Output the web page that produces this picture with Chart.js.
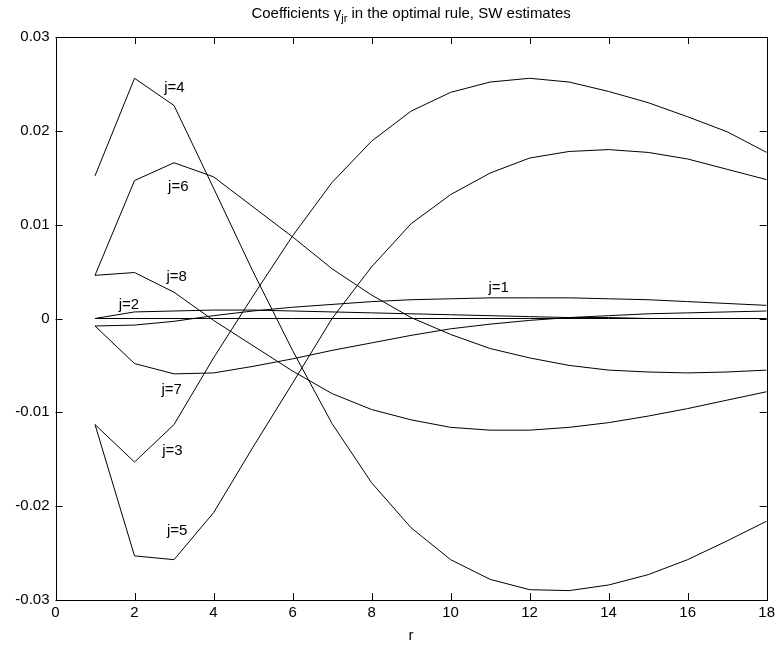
<!DOCTYPE html>
<html>
<head>
<meta charset="utf-8">
<title>Coefficients in the optimal rule</title>
<script src="https://cdn.jsdelivr.net/npm/chart.js@4.4.1/dist/chart.umd.min.js"></script>
<style>
    html, body { margin: 0; padding: 0; background: #fff; }
    #wrap { width: 779px; height: 645px; position: relative; }
</style>
</head>
<body>
<div id="wrap"><canvas id="gammaChart"></canvas></div>
<script>
(function () {
    // horizon r and coefficient paths gamma_jr for j = 1..8
    var r = [1, 2, 3, 4, 5, 6, 7, 8, 9, 10, 11, 12, 13, 14, 15, 16, 17, 18];

    var gamma1 = [-0.0008, -0.0007, -0.0003, 0.0003, 0.0008, 0.0012, 0.0015, 0.0018, 0.0020,
                  0.0021, 0.0022, 0.0022, 0.0022, 0.0021, 0.0020, 0.0018, 0.0016, 0.0014];
    var gamma2 = [0.0000, 0.0007, 0.0008, 0.0009, 0.0009, 0.0008, 0.0007, 0.0006, 0.0005,
                  0.0004, 0.0003, 0.0002, 0.0001, 0.0001, 0.0000, 0.0000, 0.0000, 0.0000];
    var gamma3 = [-0.0113, -0.0153, -0.0113, -0.0042, 0.0024, 0.0088, 0.0145, 0.0189, 0.0221,
                  0.0241, 0.0252, 0.0256, 0.0252, 0.0242, 0.0230, 0.0215, 0.0199, 0.0177];
    var gamma4 = [0.0152, 0.0256, 0.0227, 0.0139, 0.0050, -0.0034, -0.0112, -0.0175, -0.0223,
                  -0.0257, -0.0278, -0.0289, -0.0290, -0.0284, -0.0273, -0.0257, -0.0237, -0.0216];
    var gamma5 = [-0.0113, -0.0253, -0.0257, -0.0207, -0.0137, -0.0069, 0.0000, 0.0055, 0.0101,
                  0.0132, 0.0155, 0.0171, 0.0178, 0.0180, 0.0177, 0.0170, 0.0159, 0.0148];
    var gamma6 = [0.0046, 0.0147, 0.0166, 0.0151, 0.0119, 0.0087, 0.0053, 0.0025, 0.0001,
                  -0.0017, -0.0032, -0.0042, -0.0050, -0.0055, -0.0057, -0.0058, -0.0057, -0.0055];
    var gamma7 = [-0.0008, -0.0048, -0.0059, -0.0058, -0.0051, -0.0043, -0.0034, -0.0026, -0.0018,
                  -0.0011, -0.0006, -0.0002, 0.0001, 0.0003, 0.0005, 0.0006, 0.0007, 0.0008];
    var gamma8 = [0.0046, 0.0049, 0.0028, -0.0002, -0.0029, -0.0056, -0.0080, -0.0097, -0.0108,
                  -0.0116, -0.0119, -0.0119, -0.0116, -0.0111, -0.0104, -0.0096, -0.0087, -0.0078];
    var zeroLine = [0, 0, 0, 0, 0, 0, 0, 0, 0, 0, 0, 0, 0, 0, 0, 0, 0, 0];

    var xTicks = [0, 2, 4, 6, 8, 10, 12, 14, 16, 18];
    var yTicks = [-0.03, -0.02, -0.01, 0, 0.01, 0.02, 0.03];

    // text labels placed in data units (r, gamma)
    var curveLabels = [
        { text: 'j=1', r: 10.96, value: 0.00325 },
        { text: 'j=2', r: 1.60, value: 0.00144 },
        { text: 'j=3', r: 2.70, value: -0.01412 },
        { text: 'j=4', r: 2.75, value: 0.02457 },
        { text: 'j=5', r: 2.82, value: -0.02265 },
        { text: 'j=6', r: 2.85, value: 0.01407 },
        { text: 'j=7', r: 2.68, value: -0.00762 },
        { text: 'j=8', r: 2.81, value: 0.00442 }
    ];

    var FONT = 'Liberation Sans, Arial, Helvetica, sans-serif';
    var FONT_SIZE = 15;

    function series(values) {
        return values.map(function (v, i) { return { x: r[i], y: v }; });
    }

    function lineSet(label, values) {
        return {
            label: label,
            data: series(values),
            borderColor: '#000',
            borderWidth: 1,
            pointRadius: 0,
            tension: 0,
            fill: false
        };
    }

    function fmtY(value) {
        if (Math.abs(value) < 1e-9) return '0';
        return value.toFixed(2);
    }

    // frame, inward ticks, title with subscript and curve labels
    var matlabAxes = {
        id: 'matlabAxes',
        afterDraw: function (chart) {
            var ctx = chart.ctx;
            var area = chart.chartArea;
            var xs = chart.scales.x;
            var ys = chart.scales.y;
            var tick = 7;

            ctx.save();
            ctx.strokeStyle = '#000';
            ctx.lineWidth = 1;
            ctx.strokeRect(Math.round(area.left) + 0.5, Math.round(area.top) + 0.5,
                Math.round(area.right - area.left), Math.round(area.bottom - area.top));

            ctx.beginPath();
            xTicks.forEach(function (v) {
                var px = Math.round(xs.getPixelForValue(v)) + 0.5;
                ctx.moveTo(px, area.bottom);
                ctx.lineTo(px, area.bottom - tick);
                ctx.moveTo(px, area.top);
                ctx.lineTo(px, area.top + tick);
            });
            yTicks.forEach(function (v) {
                var py = Math.round(ys.getPixelForValue(v)) + 0.5;
                ctx.moveTo(area.left, py);
                ctx.lineTo(area.left + tick, py);
                ctx.moveTo(area.right, py);
                ctx.lineTo(area.right - tick, py);
            });
            ctx.stroke();

            // title
            var main = 'Coefficients \u03b3';
            var sub = 'jr';
            var rest = ' in the optimal rule, SW estimates';
            var bigFont = FONT_SIZE + 'px ' + FONT;
            var smallFont = '11px ' + FONT;
            ctx.fillStyle = '#000';
            ctx.textBaseline = 'alphabetic';
            ctx.textAlign = 'left';
            ctx.font = bigFont;
            var wMain = ctx.measureText(main).width;
            var wRest = ctx.measureText(rest).width;
            ctx.font = smallFont;
            var wSub = ctx.measureText(sub).width;
            var total = wMain + wSub + wRest;
            var x0 = (area.left + area.right) / 2 - total / 2;
            var base = 18;
            ctx.font = bigFont;
            ctx.fillText(main, x0, base);
            ctx.font = smallFont;
            ctx.fillText(sub, x0 + wMain, base + 4);
            ctx.font = bigFont;
            ctx.fillText(rest, x0 + wMain + wSub, base);

            // curve labels
            ctx.textBaseline = 'middle';
            curveLabels.forEach(function (lab) {
                ctx.fillText(lab.text, xs.getPixelForValue(lab.r), ys.getPixelForValue(lab.value));
            });
            ctx.restore();
        }
    };

    new Chart(document.getElementById('gammaChart').getContext('2d'), {
        type: 'line',
        data: {
            datasets: [
                lineSet('j=1', gamma1),
                lineSet('j=2', gamma2),
                lineSet('j=3', gamma3),
                lineSet('j=4', gamma4),
                lineSet('j=5', gamma5),
                lineSet('j=6', gamma6),
                lineSet('j=7', gamma7),
                lineSet('j=8', gamma8),
                lineSet('zero', zeroLine)
            ]
        },
        options: {
            responsive: true,
            maintainAspectRatio: false,
            animation: false,
            events: [],
            layout: { padding: { top: 37, right: 10, left: 0, bottom: 0 } },
            plugins: {
                legend: { display: false },
                tooltip: { enabled: false },
                title: { display: false }
            },
            scales: {
                x: {
                    type: 'linear',
                    min: 0,
                    max: 18,
                    afterBuildTicks: function (scale) {
                        scale.ticks = xTicks.map(function (v) { return { value: v }; });
                    },
                    afterFit: function (scale) { scale.height = 45; },
                    grid: { display: false, drawTicks: false },
                    border: { display: false },
                    ticks: {
                        color: '#000',
                        padding: 4,
                        maxRotation: 0,
                        font: { family: FONT, size: FONT_SIZE }
                    },
                    title: {
                        display: true,
                        text: 'r',
                        color: '#000',
                        padding: { top: 0, bottom: 0 },
                        font: { family: FONT, size: FONT_SIZE }
                    }
                },
                y: {
                    type: 'linear',
                    min: -0.03,
                    max: 0.03,
                    afterBuildTicks: function (scale) {
                        scale.ticks = yTicks.map(function (v) { return { value: v }; });
                    },
                    afterFit: function (scale) { scale.width = 55.5; },
                    grid: { display: false, drawTicks: false },
                    border: { display: false },
                    ticks: {
                        color: '#000',
                        padding: 6,
                        callback: fmtY,
                        font: { family: FONT, size: FONT_SIZE }
                    }
                }
            }
        },
        plugins: [matlabAxes]
    });
})();
</script>
</body>
</html>
